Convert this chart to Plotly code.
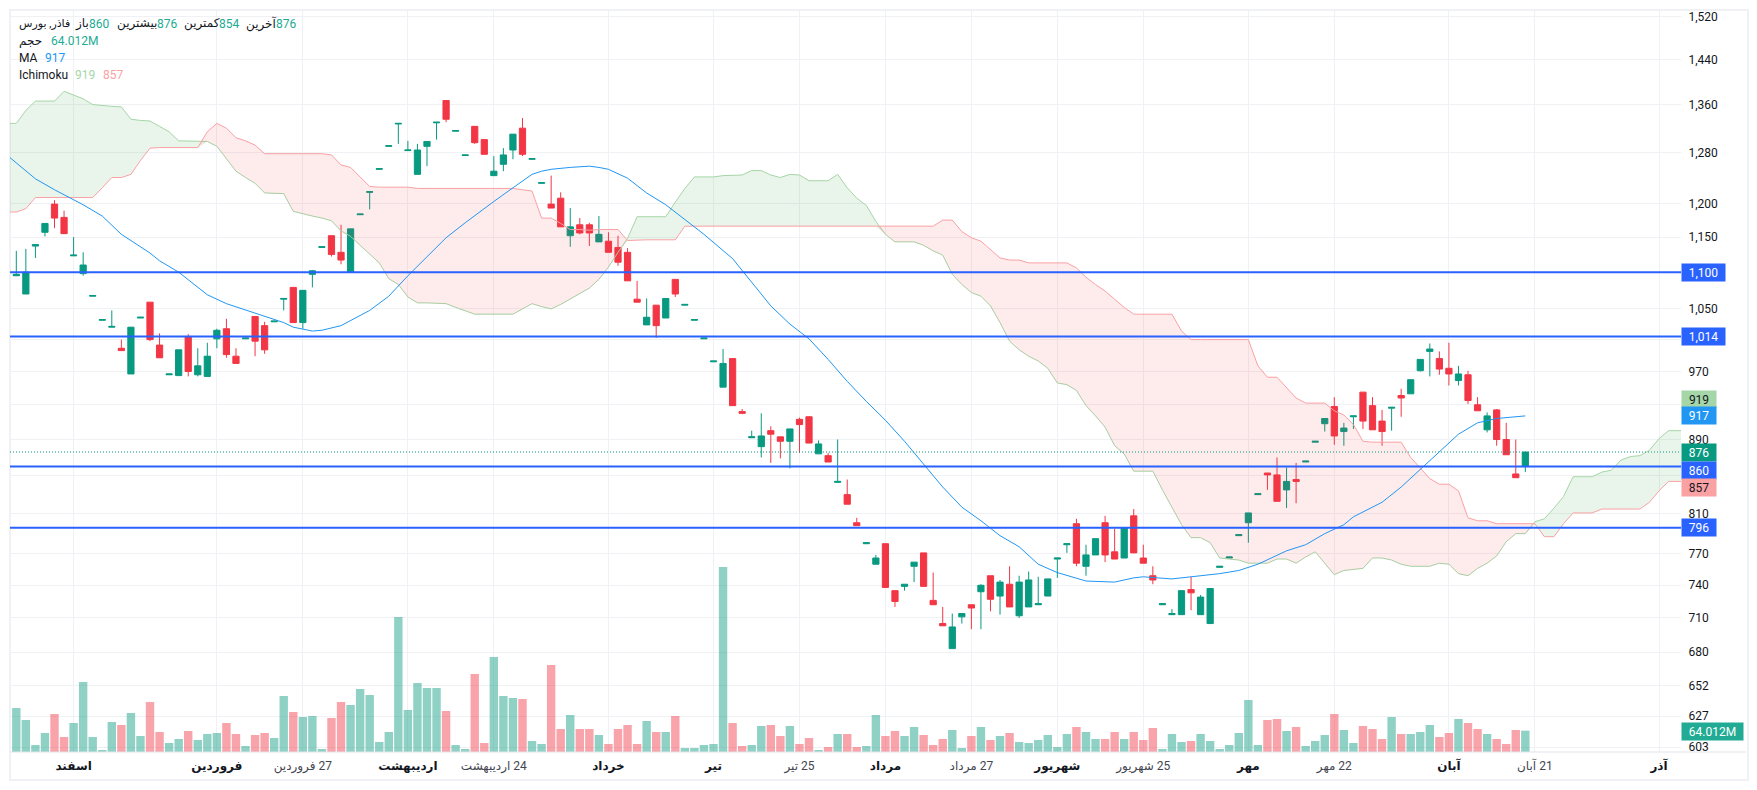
import numpy as np
import plotly.graph_objects as go

# candles, index = trading day from left edge
opens = [1095, 1070, 1137, 1157, 1199, 1179, 1123, 1098, 1067, 1035,
         1026, 999, 967, 1038, 1059, 1003, 966, 965, 1014, 966,
         964, 1011, 1024, 989, 1011, 1040, 1028, 1033, 1063, 1079,
         1032, 1097, 1135, 1152, 1128, 1100, 1183, 1217, 1253, 1290,
         1327, 1283, 1245, 1290, 1329, 1367, 1315, 1275, 1323, 1301,
         1243, 1261, 1284, 1320, 1269, 1231, 1199, 1208, 1152, 1168,
         1168, 1143, 1144, 1135, 1128, 1063, 1029, 1055, 1038, 1090,
         1055, 1035, 1011, 982, 951, 986, 922, 892, 882, 900,
         893, 888, 913, 916, 874, 872, 843, 830, 801, 780,
         760, 780, 735, 739, 758, 771, 726, 705, 683, 711,
         722, 734, 749, 730, 741, 712, 720, 722, 730, 765,
         779, 800, 758, 769, 801, 772, 766, 808, 766, 749,
         722, 713, 713, 736, 713, 705, 757, 766, 788, 801,
         830, 853, 851, 835, 846, 865, 887, 908, 928, 899,
         916, 945, 929, 911, 926, 941, 943, 971, 995, 986,
         974, 959, 966, 930, 901, 924, 890, 852, 860]
highs = [1130, 1133, 1139, 1170, 1205, 1189, 1150, 1128, 1068, 1036,
         1048, 1010, 1026, 1039, 1059, 1018, 967, 997, 1017, 999,
         1006, 1024, 1037, 999, 1012, 1040, 1033, 1034, 1064, 1079,
         1075, 1103, 1136, 1152, 1168, 1162, 1184, 1218, 1254, 1291,
         1328, 1299, 1294, 1298, 1330, 1367, 1316, 1276, 1323, 1301,
         1274, 1287, 1310, 1337, 1270, 1232, 1243, 1217, 1193, 1178,
         1171, 1181, 1157, 1152, 1134, 1088, 1064, 1055, 1064, 1090,
         1056, 1036, 1012, 983, 998, 986, 925, 900, 920, 905,
         893, 902, 915, 916, 889, 875, 890, 846, 806, 781,
         769, 780, 735, 741, 762, 771, 752, 720, 714, 714,
         722, 741, 749, 745, 758, 749, 753, 748, 746, 766,
         780, 805, 779, 785, 808, 795, 796, 815, 779, 758,
         723, 718, 735, 748, 731, 737, 758, 767, 789, 811,
         831, 853, 870, 859, 864, 866, 888, 914, 939, 909,
         917, 945, 939, 924, 927, 949, 960, 985, 1005, 995,
         1006, 977, 971, 939, 921, 925, 909, 890, 876]
lows = [1095, 1070, 1120, 1151, 1163, 1155, 1123, 1095, 1067, 1035,
        1026, 996, 967, 1038, 1008, 987, 966, 965, 964, 964,
        964, 999, 987, 980, 1011, 989, 992, 1033, 1048, 1032,
        1024, 1079, 1135, 1122, 1111, 1100, 1183, 1191, 1253, 1290,
        1294, 1283, 1245, 1258, 1301, 1330, 1315, 1275, 1294, 1277,
        1243, 1250, 1269, 1274, 1269, 1231, 1193, 1165, 1136, 1154,
        1137, 1143, 1128, 1109, 1088, 1059, 1029, 1012, 1038, 1066,
        1055, 1035, 1011, 982, 951, 929, 919, 892, 870, 864,
        869, 858, 875, 886, 874, 865, 843, 820, 798, 780,
        760, 738, 720, 735, 743, 739, 722, 703, 683, 705,
        700, 700, 716, 713, 720, 710, 720, 722, 730, 747,
        771, 758, 749, 769, 762, 765, 766, 771, 761, 741,
        722, 713, 713, 717, 713, 705, 757, 766, 788, 781,
        830, 835, 823, 816, 821, 865, 887, 899, 884, 883,
        902, 902, 901, 883, 900, 916, 943, 970, 964, 966,
        953, 953, 931, 923, 898, 883, 873, 848, 854]
closes = [1097, 1100, 1139, 1170, 1178, 1155, 1124, 1110, 1068, 1036,
          1027, 996, 1026, 1039, 1010, 987, 967, 997, 970, 977,
          989, 1022, 991, 980, 1012, 1008, 997, 1034, 1064, 1032,
          1075, 1102, 1136, 1125, 1117, 1162, 1184, 1218, 1254, 1291,
          1328, 1284, 1284, 1298, 1330, 1335, 1316, 1276, 1296, 1277,
          1250, 1276, 1310, 1277, 1270, 1232, 1193, 1165, 1165, 1156,
          1156, 1154, 1128, 1114, 1088, 1059, 1039, 1028, 1064, 1070,
          1056, 1036, 1012, 983, 980, 929, 920, 893, 894, 896,
          888, 902, 907, 886, 885, 865, 844, 820, 798, 781,
          766, 738, 725, 741, 762, 739, 722, 703, 702, 714,
          719, 740, 727, 743, 720, 743, 745, 723, 746, 766,
          780, 761, 769, 785, 769, 765, 796, 771, 761, 745,
          723, 714, 735, 733, 729, 737, 758, 767, 789, 811,
          831, 851, 823, 844, 844, 866, 888, 914, 894, 903,
          917, 911, 901, 899, 927, 938, 960, 985, 998, 973,
          967, 967, 935, 923, 917, 890, 873, 848, 876]

# volume in millions
volumes = [132, 96, 21, 57, 114, 45, 87, 210, 45, 6,
           90, 81, 117, 48, 150, 60, 27, 39, 63, 36,
           54, 57, 87, 54, 18, 51, 57, 42, 168, 120,
           105, 108, 9, 102, 150, 141, 189, 171, 30, 60,
           405, 126, 207, 192, 192, 123, 21, 9, 234, 27,
           285, 168, 162, 159, 33, 24, 261, 69, 111, 69,
           69, 51, 24, 69, 81, 24, 93, 60, 60, 108,
           12, 12, 21, 24, 555, 87, 18, 21, 78, 81,
           48, 78, 24, 42, 6, 15, 54, 54, 15, 18,
           111, 48, 63, 48, 75, 51, 21, 39, 66, 12,
           48, 75, 36, 48, 57, 30, 27, 36, 51, 15,
           54, 75, 60, 39, 39, 60, 39, 60, 36, 72,
           9, 54, 30, 33, 54, 33, 9, 21, 57, 156,
           21, 96, 99, 63, 75, 18, 33, 51, 114, 66,
           27, 78, 69, 39, 105, 54, 54, 60, 81, 45,
           57, 99, 87, 69, 54, 39, 24, 66, 64.012]

# ichimoku spans, one value per bar starting one bar left of the first candle
span_a = [1328, 1328, 1350, 1366, 1366, 1366, 1383, 1377, 1370, 1360,
          1358, 1357, 1356, 1335, 1333, 1332, 1323, 1314, 1299, 1299,
          1298, 1298, 1290, 1270, 1250, 1240, 1231, 1216, 1216, 1215,
          1188, 1184, 1181, 1178, 1174, 1159, 1151, 1138, 1125, 1113,
          1091, 1083, 1066, 1058, 1058, 1057, 1057, 1052, 1047, 1043,
          1043, 1043, 1043, 1043, 1050, 1057, 1053, 1050, 1056, 1063,
          1070, 1078, 1090, 1107, 1128, 1148, 1180, 1180, 1180, 1180,
          1202, 1223, 1241, 1241, 1241, 1243, 1243, 1244, 1251, 1251,
          1244, 1240, 1245, 1244, 1235, 1235, 1235, 1245, 1224, 1208,
          1197, 1173, 1154, 1143, 1143, 1143, 1138, 1130, 1124, 1097,
          1083, 1072, 1067, 1054, 1032, 1008, 997, 989, 983, 974,
          956, 954, 947, 929, 917, 904, 883, 874, 855, 855,
          855, 835, 817, 799, 786, 786, 781, 766, 765, 764,
          761, 761, 761, 765, 765, 761, 767, 772, 761, 750,
          754, 755, 756, 766, 766, 764, 760, 758, 758, 758,
          761, 760, 751, 749, 756, 761, 768, 782, 790, 790,
          802, 805, 816, 828, 849, 849, 849, 854, 856, 867,
          871, 872, 878, 891, 900, 900, 900]
span_b = [1187, 1187, 1192, 1209, 1209, 1209, 1209, 1209, 1209, 1209,
          1224, 1240, 1240, 1245, 1267, 1287, 1288, 1288, 1288, 1288,
          1288, 1314, 1328, 1320, 1304, 1299, 1292, 1278, 1278, 1278,
          1278, 1278, 1278, 1278, 1276, 1260, 1256, 1241, 1226, 1225,
          1225, 1225, 1225, 1223, 1223, 1223, 1223, 1223, 1223, 1223,
          1223, 1223, 1223, 1223, 1221, 1219, 1178, 1178, 1170, 1161,
          1161, 1160, 1161, 1161, 1161, 1145, 1146, 1146, 1146, 1146,
          1146, 1166, 1166, 1166, 1166, 1166, 1166, 1166, 1166, 1166,
          1166, 1166, 1166, 1166, 1166, 1166, 1166, 1166, 1166, 1166,
          1166, 1166, 1166, 1166, 1166, 1166, 1166, 1166, 1175, 1175,
          1158, 1149, 1144, 1132, 1120, 1117, 1117, 1113, 1113, 1113,
          1113, 1113, 1106, 1093, 1083, 1074, 1063, 1052, 1043, 1043,
          1043, 1043, 1043, 1021, 1010, 1010, 1010, 1010, 1010, 1010,
          1010, 977, 963, 963, 950, 938, 932, 932, 932, 923,
          918, 907, 888, 887, 887, 887, 887, 870, 859, 847,
          841, 841, 834, 806, 803, 803, 800, 800, 800, 800,
          800, 787, 787, 800, 811, 811, 811, 815, 815, 815,
          815, 815, 822, 834, 844, 844, 844]

# moving average, read at the bars where the curve bends
ma_bars = [-1, 2, 4, 7, 9, 11, 14, 15, 17, 18, 20, 22, 25, 28, 29, 31, 32, 34, 37, 39,
           41, 43, 45, 47, 49, 50, 52, 54, 55, 56, 58, 60, 61, 62, 64, 66, 68, 70, 72, 75,
           77, 79, 81, 83, 85, 87, 89, 91, 93, 95, 97, 99, 101, 103, 105, 107, 109, 112, 115, 117,
           118, 121, 123, 126, 128, 130, 133, 135, 137, 139, 140, 143, 145, 147, 149, 151, 153, 155, 158]
ma_values = [1276, 1238, 1221, 1198, 1181, 1154, 1127, 1116, 1100, 1090, 1069, 1057, 1044, 1032, 1026, 1021, 1022, 1028, 1048, 1067,
             1095, 1121, 1149, 1171, 1193, 1203, 1224, 1245, 1250, 1253, 1256, 1258, 1256, 1253, 1239, 1216, 1198, 1176, 1154, 1119,
             1086, 1054, 1030, 1011, 985, 958, 934, 912, 888, 863, 838, 817, 803, 788, 777, 760, 752, 744, 743, 747,
             748, 746, 748, 751, 754, 760, 773, 779, 790, 799, 807, 822, 838, 857, 877, 896, 909, 914, 917]

price_ticks = [603, 627, 652, 680, 710, 740, 770, 810, 850, 890, 930, 970, 1010, 1050, 1100, 1150, 1200, 1280, 1360, 1440, 1520]
# the ticks sitting behind a price box keep their grid line but show no label
price_labels = ['603', '627', '652', '680', '710', '740', '770', '810', '', '890', '', '970', '', '1,050', '', '1,150', '1,200', '1,280', '1,360', '1,440', '1,520']
date_bars = [6, 21, 30, 41, 50, 62, 73, 82, 91, 100, 109, 118, 129, 138, 150, 159, 172]
date_names = ['اسفند', 'فروردین', '27 فروردین', 'اردیبهشت', '24 اردیبهشت', 'خرداد', 'تیر', '25 تیر', 'مرداد',
              '27 مرداد', 'شهریور', '25 شهریور', 'مهر', '22 مهر', 'آبان', '21 آبان', 'آذر']
level_lines = [1100, 1014, 860, 796]
last_close = 876

GREEN = '#089981'
RED = '#F23645'
LEVEL = '#2962FF'
TEAL = '#22AB94'
MA_COL = '#2196F3'
SPAN_A_COL = '#A5D6A7'
SPAN_B_COL = '#FAA1A4'
INK = '#131722'
GRID = '#F0F1F4'
FONT = "Roboto, 'DejaVu Sans', sans-serif"

# plot rectangle in page pixels, the page adds 8px of body margin
PLOT_L, PLOT_R, PLOT_T, PLOT_B = 10, 1681, 10, 752


def px(x):
    return (x - PLOT_L) / (PLOT_R - PLOT_L)


def py(y):
    return (PLOT_B - y) / (PLOT_B - PLOT_T)


def date_label(name):
    # month names are bold; day labels read right to left, hence the RLM
    if name[0].isdigit():
        return '<span style="color:#434651">\u200f' + name + '</span>'
    return '<b>' + name + '</b>'


bars = list(range(len(closes)))
span_bars = list(range(-1, len(span_a) - 1))
span_low = np.minimum(span_a, span_b).tolist()
volume_colors = ['rgba(8,153,129,0.45)' if c >= o else 'rgba(242,54,69,0.45)'
                 for o, c in zip(opens, closes)]

fig = go.Figure()

fig.add_trace(go.Bar(x=bars, y=volumes, marker=dict(color=volume_colors, line_width=0), yaxis='y'))

# clouds: fill from the lower span up to each span, so only the top one shows
for values, line_col, fill_col in [(span_a, SPAN_A_COL, 'rgba(76,175,80,0.12)'),
                                   (span_b, SPAN_B_COL, 'rgba(242,54,69,0.10)')]:
    fig.add_trace(go.Scatter(x=span_bars, y=span_low, mode='lines', line=dict(width=0), yaxis='y2'))
    fig.add_trace(go.Scatter(x=span_bars, y=values, mode='lines', yaxis='y2',
                             line=dict(color=line_col, width=1), fill='tonexty', fillcolor=fill_col))

fig.add_trace(go.Scatter(x=ma_bars, y=ma_values, mode='lines', yaxis='y2',
                         line=dict(color=MA_COL, width=1)))

fig.add_trace(go.Candlestick(
    x=bars, open=opens, high=highs, low=lows, close=closes, yaxis='y2', whiskerwidth=0,
    increasing=dict(line=dict(color=GREEN, width=1), fillcolor=GREEN),
    decreasing=dict(line=dict(color=RED, width=1), fillcolor=RED),
))

shapes = [
    dict(type='rect', xref='paper', yref='paper', x0=px(10), x1=px(1748), y0=py(780), y1=py(10),
         line=dict(color='#F0F1F5', width=2), layer='below'),
    dict(type='line', xref='paper', yref='paper', x0=px(10), x1=px(1746), y0=0, y1=0,
         line=dict(color='#E0E3EB', width=1)),
    dict(type='line', xref='paper', yref='y2', x0=0, x1=1, y0=last_close, y1=last_close,
         line=dict(color=GREEN, width=1, dash='1px,2px')),
]
for level in level_lines:
    shapes.append(dict(type='line', xref='paper', yref='y2', x0=0, x1=1, y0=level, y1=level,
                       line=dict(color=LEVEL, width=2)))


def price_box(text, price, color, width, font_color='white', shift=0):
    return dict(text=text, xref='paper', yref='y2', x=1, y=np.log10(price), yshift=shift,
                xanchor='left', yanchor='middle', showarrow=False, bgcolor=color,
                width=width, height=17, borderpad=0, align='center',
                font=dict(family=FONT, size=12, color=font_color))


def legend_text(text, x, y, color=INK, size=12):
    return dict(text=text, xref='paper', yref='paper', x=px(x), y=py(y), xanchor='left', yanchor='middle',
                showarrow=False, borderpad=0, font=dict(family=FONT, size=size, color=color))


annotations = [
    price_box('1,100', 1100, LEVEL, 43),
    price_box('1,014', 1014, LEVEL, 43),
    price_box('919', 919, SPAN_A_COL, 34, INK, 15),
    price_box('917', 917, MA_COL, 34),
    price_box('876', 876, GREEN, 34),
    price_box('860', 860, LEVEL, 34, shift=-3.5),
    price_box('857', 857, SPAN_B_COL, 34, INK, -18),
    price_box('796', 796, LEVEL, 34),
    dict(text='64.012M', xref='paper', yref='paper', x=1, y=py(731.5), xanchor='left', yanchor='middle',
         showarrow=False, bgcolor=TEAL, width=61, height=17, borderpad=0, align='center',
         font=dict(family=FONT, size=12, color='white')),
    legend_text('فاذر, بورس', 18, 24, size=11),
    legend_text('باز', 74, 24),
    legend_text('860', 88, 24, TEAL),
    legend_text('بیشترین', 116, 24),
    legend_text('876', 156, 24, TEAL),
    legend_text('کمترین', 183, 24),
    legend_text('854', 218, 24, TEAL),
    legend_text('آخرین', 245, 24),
    legend_text('876', 275, 24, TEAL),
    legend_text('حجم', 18, 41),
    legend_text('64.012M', 50, 41, TEAL),
    legend_text('MA', 18, 58),
    legend_text('917', 44, 58, MA_COL),
    legend_text('Ichimoku', 18, 75),
    legend_text('919', 74, 75, SPAN_A_COL),
    legend_text('857', 102, 75, SPAN_B_COL),
]

fig.update_layout(
    width=1741, height=774,
    margin=dict(l=2, r=68, t=2, b=30),
    paper_bgcolor='white', plot_bgcolor='white',
    showlegend=False, hovermode=False,
    bargap=0.12, boxgap=0.35, boxgroupgap=0,
    font=dict(family=FONT, size=12, color=INK),
    shapes=shapes, annotations=annotations,
    xaxis=dict(range=[-0.66, 174.3], tickmode='array', tickvals=date_bars,
               ticktext=[date_label(n) for n in date_names],
               showgrid=True, gridcolor=GRID, gridwidth=1, zeroline=False, showline=False,
               ticks='outside', ticklen=3, tickcolor='rgba(0,0,0,0)', tickangle=0,
               tickfont=dict(family=FONT, size=12, color=INK), rangeslider=dict(visible=False)),
    yaxis=dict(range=[0, 2226], visible=False, showgrid=False, zeroline=False),
    yaxis2=dict(type='log', range=[np.log10(599.2), np.log10(1533)], overlaying='y', side='right',
                tickmode='array', tickvals=price_ticks, ticktext=price_labels,
                showgrid=True, gridcolor=GRID, gridwidth=1, zeroline=False, showline=False,
                ticks='outside', ticklen=4, tickcolor='rgba(0,0,0,0)',
                tickfont=dict(family=FONT, size=12, color=INK)),
)

fig.write_html("out.html")
